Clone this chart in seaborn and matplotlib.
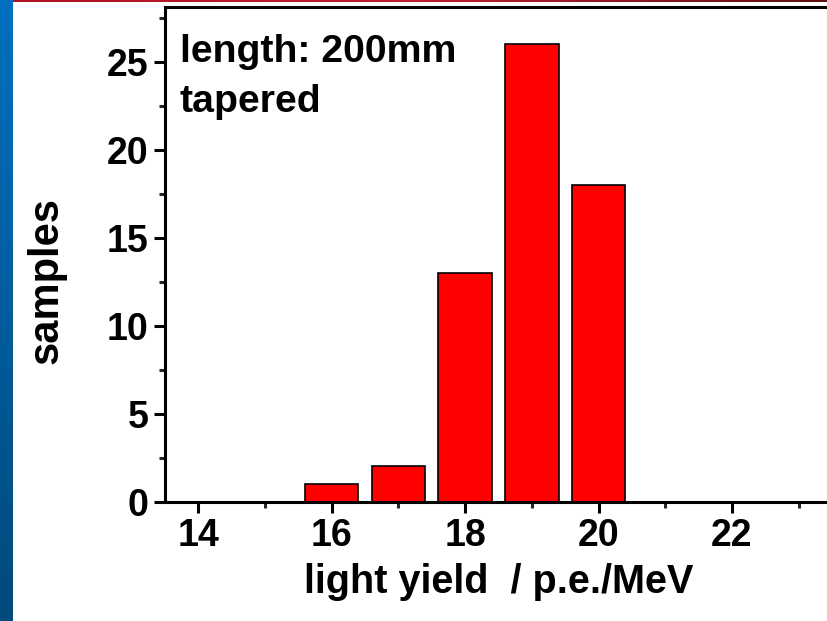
import numpy as np
import pandas as pd
import matplotlib
matplotlib.use("Agg")
import matplotlib.pyplot as plt
from matplotlib.ticker import MultipleLocator
from matplotlib.colors import LinearSegmentedColormap
import seaborn as sns

light_yield = [16, 17, 18, 19, 20]
samples = [1, 2, 13, 26, 18]
x_ticks = [14, 16, 18, 20, 22]
y_ticks = [0, 5, 10, 15, 20, 25]
x_label = "light yield  / p.e./MeV"
y_label = "samples"
note_lines = ["length: 200mm", "tapered"]

sns.set_theme(style="ticks")
plt.rcParams["font.family"] = ["Liberation Sans", "DejaVu Sans"]
plt.rcParams["font.weight"] = "bold"
plt.rcParams["text.color"] = "black"

W, H = 827, 621
fig = plt.figure(figsize=(W / 100, H / 100), dpi=100)
fig.patch.set_facecolor("white")

x0, x1 = 13.5, 24.0
px_per_unit = 66.7
left_px, bottom_px, top_px = 165, 501.5, 7
ax = fig.add_axes([left_px / W, 1 - bottom_px / H,
                   (x1 - x0) * px_per_unit / W, (bottom_px - top_px) / H])

df = pd.DataFrame({"ly": light_yield, "n": samples})
sns.barplot(data=df, x="ly", y="n", native_scale=True, width=0.8,
            color="#ff0000", saturation=1, edgecolor="black", linewidth=1.2, ax=ax)

ax.set_xlim(x0, x1)
ax.set_ylim(0, 28.1)
ax.set_xticks(x_ticks)
ax.set_yticks(y_ticks)
ax.xaxis.set_minor_locator(MultipleLocator(1))
ax.yaxis.set_minor_locator(MultipleLocator(2.5))
ax.set_xlabel("")
ax.set_ylabel("")
for s in ["left", "bottom", "top", "right"]:
    ax.spines[s].set_linewidth(2.2)
    ax.spines[s].set_color("black")
ax.tick_params(which="major", direction="out", length=8, width=2.2,
               labelsize=27, pad=4, colors="black")
ax.tick_params(which="minor", direction="out", length=4.3, width=2.2)
ax.tick_params(top=False, right=False, which="both")
for lab in ax.get_xticklabels() + ax.get_yticklabels():
    lab.set_fontweight("bold")

fig.text(499 / W, 1 - 593 / H, x_label, ha="center", va="baseline",
         fontsize=28.5, fontweight="bold", color="black")
fig.text(47 / W, 1 - 281 / H, y_label, ha="center", va="center",
         rotation=90, fontsize=30, fontweight="bold", color="black")
fig.text(180 / W, 1 - 62 / H, note_lines[0], ha="left", va="baseline",
         fontsize=28.3, fontweight="bold", color="black")
fig.text(180 / W, 1 - 112 / H, note_lines[1], ha="left", va="baseline",
         fontsize=28.3, fontweight="bold", color="black")

# slide decoration: blue gradient strip on left, red strip on top
grad = np.linspace(0, 1, 256).reshape(-1, 1)
cmap = LinearSegmentedColormap.from_list("bl", ["#0070c0", "#004a7c"])
bax = fig.add_axes([0, 0, 13 / W, 1])
bax.imshow(grad, aspect="auto", cmap=cmap)
bax.set_axis_off()
rcmap = LinearSegmentedColormap.from_list("rd", ["#b01020", "#c02030", "#601010"])
rax = fig.add_axes([13 / W, 1 - 2.5 / H, 1 - 13 / W, 2.5 / H])
rax.imshow(np.linspace(0, 1, 256).reshape(1, -1), aspect="auto", cmap=rcmap)
rax.set_axis_off()

fig.savefig("out.png", dpi=100)
